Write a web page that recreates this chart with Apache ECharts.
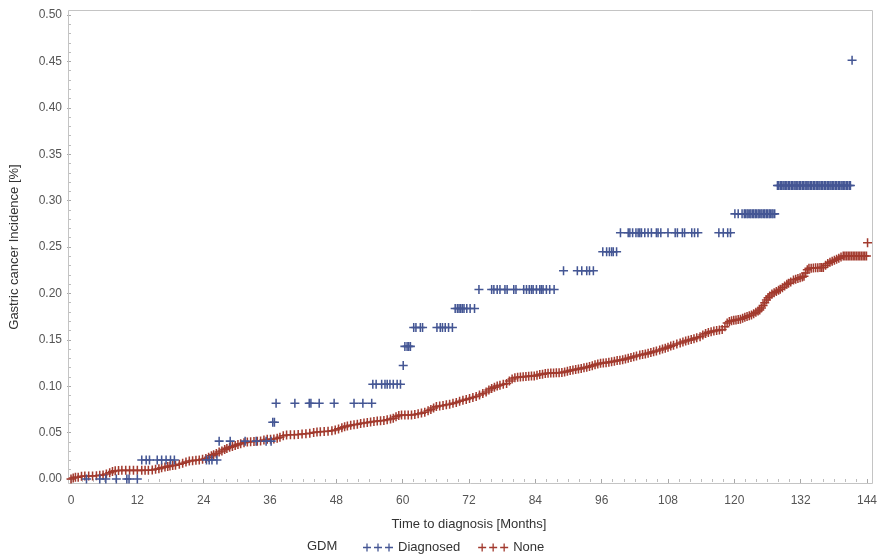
<!DOCTYPE html>
<html>
<head>
<meta charset="utf-8">
<title>Gastric cancer incidence by GDM</title>
<script src="https://cdn.jsdelivr.net/npm/echarts@6/dist/echarts.min.js"></script>
<style>
  html, body { margin: 0; padding: 0; background: #ffffff; }
  #chart { width: 884px; height: 560px; }
</style>
</head>
<body>
<div id="chart"></div>
<script>
// Axis ticks
const monthTicks = [0, 12, 24, 36, 48, 60, 72, 84, 96, 108, 120, 132, 144];
const incidenceTicks = [0, 0.05, 0.10, 0.15, 0.20, 0.25, 0.30, 0.35, 0.40, 0.45, 0.50];

// GDM = Diagnosed: incidence level of each step and the months of the marks on it
const diagnosedLevels = [0, 0.0204, 0.0408, 0.0612, 0.0816, 0.1020, 0.1224, 0.1429, 0.1633,
  0.1837, 0.2041, 0.2245, 0.2449, 0.2653, 0.2857, 0.3163, 0.4512];
const diagnosedMonths = [
  [2.8, 5.2, 6.3, 8.2, 10.1, 10.5, 12.0],
  [12.8, 13.6, 14.2, 15.6, 16.4, 17.2, 18.0, 18.7, 24.5, 25.0, 25.5, 26.4],
  [26.8, 28.8, 31.5, 33.5, 35.3, 36.2],
  [36.5, 36.8],
  [37.1, 40.5, 43.1, 43.4, 44.9, 47.6, 51.2, 52.8, 54.4],
  [54.6, 55.2, 56.2, 56.8, 57.2, 57.7, 58.3, 59.0, 59.6],
  [60.1],
  [60.4, 60.8, 61.1, 61.4],
  [62.0, 62.4, 63.2, 63.6, 66.2, 66.8, 67.2, 67.7, 68.3, 69.0],
  [69.5, 69.9, 70.2, 70.5, 70.8, 71.1, 71.6, 72.2, 73.0],
  [73.8, 76.1, 76.5, 77.1, 77.6, 78.5, 78.9, 80.1, 80.5, 81.9, 82.4, 82.9, 83.3, 83.6,
   84.2, 84.8, 85.1, 85.4, 86.0, 86.6, 87.4],
  [89.1, 91.6, 92.4, 93.3, 93.8, 94.5],
  [96.2, 96.9, 97.4, 97.8, 98.1, 98.7],
  [99.4, 100.8, 101.1, 101.6, 102.2, 102.6, 102.9, 103.2, 103.8, 104.4, 105.0, 105.9,
   106.2, 106.7, 108.0, 109.3, 109.7, 110.6, 111.0, 112.3, 112.8, 113.4,
   117.2, 118.0, 118.8, 119.3],
  [120.1, 120.7, 121.4, 121.8, 122.0, 122.3, 122.5, 122.8, 123.0, 123.3, 123.5, 123.8,
   124.0, 124.3, 124.5, 124.8, 125.0, 125.3, 125.5, 125.8, 126.0, 126.3, 126.5, 126.8,
   127.0, 127.3],
  [127.8, 128.0, 128.3, 128.5, 128.8, 129.0, 129.3, 129.5, 129.8, 130.0, 130.3, 130.5,
   130.8, 131.0, 131.3, 131.5, 131.8, 132.0, 132.3, 132.5, 132.8, 133.0, 133.3, 133.5,
   133.8, 134.0, 134.3, 134.5, 134.8, 135.0, 135.3, 135.5, 135.8, 136.0, 136.3, 136.5,
   136.8, 137.0, 137.3, 137.5, 137.8, 138.0, 138.3, 138.5, 138.8, 139.0, 139.3, 139.5,
   139.8, 140.0, 140.3, 140.5, 140.8, 141.0],
  [141.3]
];

// GDM = None: [month, incidence] of each mark
const noneCurve = [
  [0,0],[0.4,0.001],[0.8,0.0018],[1.3,0.002],[1.9,0.003],[2.5,0.0032],[3.2,0.0032],[3.9,0.0032],
  [4.6,0.0035],[5.2,0.004],[5.8,0.0043],[6.4,0.0055],[7.0,0.0068],[7.5,0.008],[8.0,0.009],
  [8.6,0.0092],[9.2,0.0093],[9.9,0.0093],[10.6,0.0093],[11.3,0.0093],[12.0,0.0093],[12.8,0.0093],
  [13.4,0.0094],[14.0,0.0095],[14.7,0.0098],[15.3,0.0104],[15.9,0.011],[16.4,0.012],[17.0,0.0128],
  [17.5,0.0135],[17.9,0.014],[18.4,0.0145],[18.9,0.0147],[19.6,0.016],[20.2,0.017],[20.8,0.0182],
  [21.4,0.0194],[22.0,0.0198],[22.6,0.0202],[23.2,0.0205],[23.8,0.0212],[24.4,0.0222],[24.9,0.0235],
  [25.4,0.025],[25.8,0.026],[26.3,0.0275],[26.8,0.029],[27.3,0.0302],[27.8,0.0318],[28.2,0.033],
  [28.7,0.0342],[29.2,0.035],[29.7,0.036],[30.2,0.0372],[30.7,0.038],[31.3,0.039],[31.9,0.0398],
  [32.5,0.0402],[33.1,0.0405],[33.7,0.0408],[34.3,0.041],[34.9,0.042],[35.5,0.0427],[36.1,0.0428],
  [36.7,0.043],[37.3,0.044],[37.8,0.045],[38.4,0.0465],[39.0,0.0474],[39.7,0.0476],[40.4,0.0478],
  [41.1,0.048],[41.8,0.0484],[42.5,0.0488],[43.2,0.0492],[43.9,0.05],[44.5,0.0506],[45.1,0.051],
  [45.8,0.0512],[46.5,0.0515],[47.2,0.052],[47.8,0.0528],[48.4,0.054],[49.0,0.0552],[49.5,0.0562],
  [50.0,0.057],[50.6,0.0578],[51.2,0.0585],[51.8,0.059],[52.4,0.0598],[53.0,0.0604],[53.6,0.0608],
  [54.2,0.0615],[54.8,0.062],[55.4,0.0624],[56.0,0.0627],[56.6,0.063],[57.2,0.0638],[57.8,0.0647],
  [58.3,0.0654],[58.8,0.067],[59.3,0.0685],[59.8,0.069],[60.4,0.069],[61.0,0.069],[61.6,0.069],
  [62.2,0.0695],[62.8,0.0702],[63.4,0.071],[64.0,0.072],[64.6,0.0735],[65.1,0.075],[65.6,0.0765],
  [66.1,0.078],[66.7,0.0787],[67.3,0.0793],[67.9,0.08],[68.5,0.0806],[69.1,0.0815],[69.7,0.0825],
  [70.3,0.0838],[70.9,0.0848],[71.5,0.0858],[72.1,0.0868],[72.7,0.0878],[73.3,0.089],[73.9,0.0905],
  [74.5,0.092],[75.1,0.0938],[75.6,0.096],[76.1,0.0975],[76.6,0.099],[77.1,0.1002],[77.6,0.101],
  [78.2,0.102],[78.8,0.103],[79.3,0.1055],[79.8,0.1078],[80.3,0.109],[80.8,0.1097],[81.3,0.11],
  [81.8,0.1103],[82.3,0.1105],[82.8,0.1107],[83.3,0.1109],[83.8,0.1111],[84.3,0.1118],[84.8,0.1125],
  [85.3,0.113],[85.8,0.1136],[86.3,0.114],[86.8,0.1142],[87.3,0.1143],[87.8,0.1144],[88.3,0.1146],
  [88.8,0.1148],[89.3,0.1152],[89.8,0.116],[90.3,0.1168],[90.8,0.1174],[91.3,0.118],[91.8,0.1186],
  [92.3,0.1192],[92.8,0.1198],[93.3,0.1204],[93.8,0.1212],[94.3,0.122],[94.8,0.123],[95.3,0.124],
  [95.8,0.1247],[96.3,0.125],[96.8,0.1254],[97.3,0.1258],[97.8,0.1264],[98.3,0.127],[98.8,0.1276],
  [99.3,0.128],[99.8,0.1286],[100.3,0.1294],[100.8,0.1302],[101.3,0.131],[101.8,0.1318],[102.3,0.1326],
  [102.9,0.1336],[103.4,0.1342],[103.9,0.1348],[104.4,0.1356],[104.9,0.1364],[105.4,0.1372],
  [105.9,0.138],[106.5,0.139],[107.0,0.14],[107.5,0.141],[108.0,0.142],[108.5,0.1432],[109.0,0.1442],
  [109.6,0.1454],[110.2,0.1466],[110.7,0.1476],[111.2,0.1486],[111.7,0.1494],[112.2,0.1502],
  [112.7,0.1512],[113.2,0.1522],[113.8,0.1534],[114.3,0.1552],[114.8,0.1568],[115.3,0.158],
  [115.8,0.1588],[116.3,0.1594],[116.8,0.16],[117.3,0.1605],[117.8,0.161],[118.3,0.164],[118.7,0.168],
  [119.1,0.1698],[119.5,0.1704],[119.9,0.171],[120.3,0.1714],[120.7,0.1718],[121.1,0.1722],
  [121.5,0.1732],[121.9,0.1742],[122.3,0.1752],[122.7,0.176],[123.1,0.1767],[123.5,0.1782],
  [123.9,0.1797],[124.3,0.181],[124.6,0.182],[124.9,0.1842],[125.2,0.187],[125.5,0.19],[125.8,0.193],
  [126.1,0.1952],[126.4,0.1972],[126.8,0.1994],[127.2,0.2008],[127.6,0.202],[128.0,0.2034],
  [128.3,0.2044],[128.7,0.2062],[129.1,0.208],[129.5,0.2098],[129.8,0.211],[130.2,0.2124],
  [130.7,0.2144],[131.1,0.2152],[131.5,0.216],[131.9,0.2168],[132.3,0.2176],[132.6,0.2185],
  [132.9,0.222],[133.2,0.2255],[133.5,0.227],[133.9,0.2272],[134.3,0.2274],[134.7,0.2276],
  [135.1,0.2277],[135.5,0.2278],[135.8,0.2279],[136.1,0.228],[136.5,0.2302],[136.9,0.2322],
  [137.3,0.2335],[137.7,0.2346],[138.1,0.2356],[138.5,0.2368],[138.9,0.238],[139.3,0.2392],
  [139.7,0.2403],[140.0,0.2403],[140.3,0.2403],[140.6,0.2403],[140.9,0.2403],[141.2,0.2403],
  [141.5,0.2403],[141.8,0.2403],[142.1,0.2403],[142.4,0.2403],[142.7,0.2403],[143.0,0.2403],
  [143.3,0.2403],[143.6,0.2403],[143.9,0.2403],[144.1,0.2546]
];

const diagnosedColor = '#445694';
const noneColor = '#A23A2E';
const FONT = '"Liberation Sans", Arial, sans-serif';

// "+" censoring mark and the "+++" legend swatch
const plusMark = 'path://M-1,-0.17H1V0.17H-1Z M-0.17,-1H0.17V1H-0.17Z';
const plusTriple = 'path://M0,3.35H8V4.65H0Z M3.35,0H4.65V8H3.35Z M11,3.35H19V4.65H11Z M14.35,0H15.65V8H14.35Z M22,3.35H30V4.65H22Z M25.35,0H26.65V8H25.35Z';

const diagnosedPoints = [];
diagnosedLevels.forEach((level, i) => {
  diagnosedMonths[i].forEach(m => diagnosedPoints.push([m, level]));
});

const chart = echarts.init(document.getElementById('chart'), null, { renderer: 'canvas' });

chart.setOption({
  animation: false,
  backgroundColor: '#ffffff',
  textStyle: { fontFamily: FONT },
  grid: { left: 71, right: 17, top: 15, bottom: 81, containLabel: false },
  xAxis: {
    type: 'value',
    min: monthTicks[0],
    max: monthTicks[monthTicks.length - 1],
    interval: 12,
    offset: 5,
    name: 'Time to diagnosis [Months]',
    nameLocation: 'middle',
    nameGap: 34,
    nameTextStyle: { color: '#333', fontSize: 13, fontFamily: FONT },
    axisLine: { show: false },
    axisTick: { show: true, length: 5, lineStyle: { color: '#a8a8a8' } },
    minorTick: { show: true, splitNumber: 6, length: 3, lineStyle: { color: '#bdbdbd' } },
    splitLine: { show: false },
    axisLabel: { color: '#555', fontSize: 12, margin: 11, fontFamily: FONT,
      formatter: v => String(v) }
  },
  yAxis: {
    type: 'value',
    min: incidenceTicks[0],
    max: incidenceTicks[incidenceTicks.length - 1],
    interval: 0.05,
    offset: 3,
    name: 'Gastric cancer Incidence [%]',
    nameLocation: 'middle',
    nameGap: 47,
    nameRotate: 90,
    nameTextStyle: { color: '#333', fontSize: 13, fontFamily: FONT },
    axisLine: { show: false },
    axisTick: { show: true, length: 4, lineStyle: { color: '#a8a8a8' } },
    minorTick: { show: true, splitNumber: 5, length: 2, lineStyle: { color: '#bdbdbd' } },
    splitLine: { show: false },
    axisLabel: { color: '#555', fontSize: 12, margin: 6, fontFamily: FONT,
      formatter: v => v.toFixed(2) }
  },
  legend: {
    left: 358,
    top: 536,
    itemWidth: 30,
    itemHeight: 8,
    itemGap: 18,
    textStyle: { color: '#333', fontSize: 13, fontFamily: FONT },
    data: [
      { name: 'Diagnosed', icon: plusTriple, itemStyle: { color: diagnosedColor } },
      { name: 'None', icon: plusTriple, itemStyle: { color: noneColor } }
    ]
  },
  graphic: [
    {
      type: 'rect',
      silent: true,
      z: 1,
      shape: { x: 68.5, y: 10.5, width: 804, height: 473 },
      style: { fill: 'none', stroke: '#c4c4c4', lineWidth: 1 }
    },
    {
      type: 'text',
      left: 307,
      top: 540,
      style: { text: 'GDM', fill: '#333', font: '13px ' + FONT }
    }
  ],
  series: [
    {
      name: 'None',
      type: 'scatter',
      clip: false,
      symbol: plusMark,
      symbolSize: 9,
      itemStyle: { color: noneColor, opacity: 1 },
      data: noneCurve,
      z: 3
    },
    {
      name: 'Diagnosed',
      type: 'scatter',
      clip: false,
      symbol: plusMark,
      symbolSize: 9,
      itemStyle: { color: diagnosedColor, opacity: 1 },
      data: diagnosedPoints,
      z: 4
    }
  ]
});
</script>
</body>
</html>
